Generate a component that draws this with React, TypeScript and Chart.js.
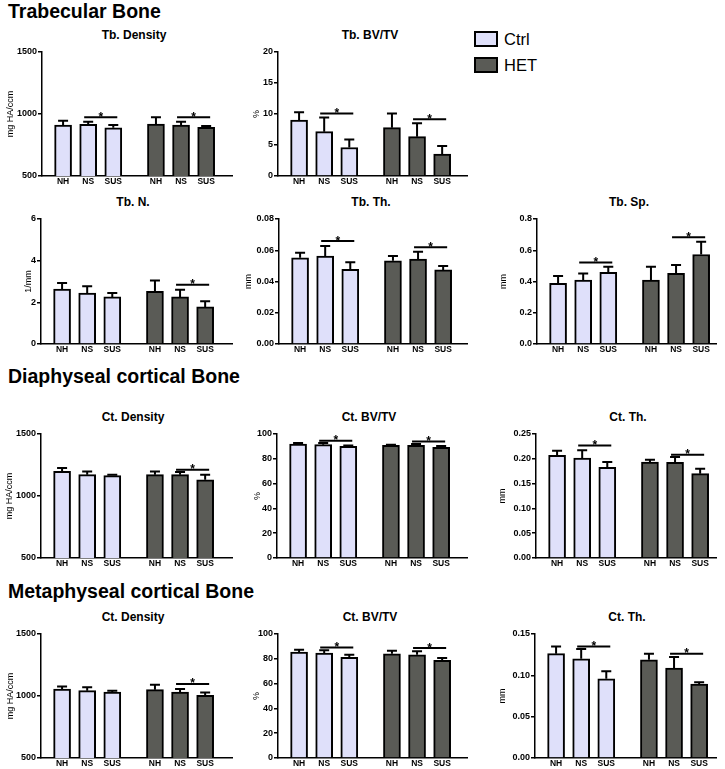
import React, { useEffect, useRef } from 'react';
import { Chart, registerables } from 'chart.js';
Chart.register(...registerables);

const FONT = "'Liberation Sans', Arial, Helvetica, sans-serif";
const CTRL_COLOR = '#dfe0fa';
const HET_COLOR = '#5a5b56';

const groupLabels = ['NH', 'NS', 'SUS'];
const legendLabels = ['Ctrl', 'HET'];

// ---- Trabecular bone ----
const tbDensityCtrl = [911, 917, 889];
const tbDensityCtrlSem = [35, 21, 22];
const tbDensityHet = [919, 911, 893];
const tbDensityHetSem = [54, 27, 10];
const tbDensitySig = [973, 973];

const tbBvtvCtrl = [9.0, 7.15, 4.6];
const tbBvtvCtrlSem = [1.3, 2.3, 1.3];
const tbBvtvHet = [7.8, 6.35, 3.55];
const tbBvtvHetSem = [2.3, 2.15, 1.3];
const tbBvtvSig = [10.1, 9.15];

const tbNCtrl = [2.64, 2.45, 2.26];
const tbNCtrlSem = [0.29, 0.32, 0.19];
const tbNHet = [2.53, 2.26, 1.78];
const tbNHetSem = [0.52, 0.35, 0.27];
const tbNSig = [null, 2.85];

const tbThCtrl = [0.0552, 0.0563, 0.0478];
const tbThCtrlSem = [0.0032, 0.0064, 0.0045];
const tbThHet = [0.0533, 0.0544, 0.0474];
const tbThHetSem = [0.003, 0.0047, 0.0025];
const tbThSig = [0.0659, 0.0619];

const tbSpCtrl = [0.388, 0.409, 0.458];
const tbSpCtrlSem = [0.048, 0.043, 0.036];
const tbSpHet = [0.409, 0.452, 0.573];
const tbSpHetSem = [0.085, 0.053, 0.081];
const tbSpSig = [0.522, 0.683];

// ---- Diaphyseal cortical bone ----
const dCtDensityCtrl = [1198, 1172, 1164];
const dCtDensityCtrlSem = [28, 26, 8];
const dCtDensityHet = [1172, 1172, 1131];
const dCtDensityHetSem = [26, 22, 41];
const dCtDensitySig = [null, 1212];

const dCtBvtvCtrl = [91.9, 91.4, 90.0];
const dCtBvtvCtrlSem = [0.8, 1.3, 0.8];
const dCtBvtvHet = [90.8, 90.8, 89.2];
const dCtBvtvHetSem = [0.6, 1.1, 1.1];
const dCtBvtvSig = [94.6, 94.0];

const dCtThCtrl = [0.2069, 0.2016, 0.1827];
const dCtThCtrlSem = [0.0094, 0.0154, 0.0108];
const dCtThHet = [0.1935, 0.1928, 0.17];
const dCtThHetSem = [0.0045, 0.0108, 0.01];
const dCtThSig = [0.227, 0.208];

// ---- Metaphyseal cortical bone ----
const mCtDensityCtrl = [1056, 1043, 1032];
const mCtDensityCtrlSem = [21, 27, 11];
const mCtDensityHet = [1051, 1032, 1005];
const mCtDensityHetSem = [40, 24, 24];
const mCtDensitySig = [null, 1097];

const mCtBvtvCtrl = [85.5, 84.7, 81.1];
const mCtBvtvCtrlSem = [1.8, 2.1, 2.2];
const mCtBvtvHet = [84.1, 83.3, 78.7];
const mCtBvtvHetSem = [2.4, 2.7, 1.9];
const mCtBvtvSig = [89.2, 88.7];

const mCtThCtrl = [0.1262, 0.1201, 0.0959];
const mCtThCtrlSem = [0.0088, 0.0118, 0.0089];
const mCtThHet = [0.1189, 0.1089, 0.0895];
const mCtThHetSem = [0.0073, 0.0133, 0.002];
const mCtThSig = [0.135, 0.1262];

type PanelDef = {
  title: string; yTitle: string; min: number; max: number; step: number; dec: number;
  ctrl: number[]; ctrlSem: number[]; het: number[]; hetSem: number[]; sig: (number | null)[];
  axisX: number; top: number; bottom: number; right: number; yTitleX: number;
};

const panels: PanelDef[] = [
  { title: 'Tb. Density', yTitle: 'mg HA/ccm', min: 500, max: 1500, step: 500, dec: 0,
    ctrl: tbDensityCtrl, ctrlSem: tbDensityCtrlSem, het: tbDensityHet, hetSem: tbDensityHetSem, sig: tbDensitySig,
    axisX: 42, top: 52, bottom: 176, right: 232, yTitleX: 10 },
  { title: 'Tb. BV/TV', yTitle: '%', min: 0, max: 20, step: 5, dec: 0,
    ctrl: tbBvtvCtrl, ctrlSem: tbBvtvCtrlSem, het: tbBvtvHet, hetSem: tbBvtvHetSem, sig: tbBvtvSig,
    axisX: 278, top: 52, bottom: 176, right: 467, yTitleX: 256 },
  { title: 'Tb. N.', yTitle: '1/mm', min: 0, max: 6, step: 2, dec: 0,
    ctrl: tbNCtrl, ctrlSem: tbNCtrlSem, het: tbNHet, hetSem: tbNHetSem, sig: tbNSig,
    axisX: 41, top: 219, bottom: 344, right: 232, yTitleX: 28 },
  { title: 'Tb. Th.', yTitle: 'mm', min: 0, max: 0.08, step: 0.02, dec: 2,
    ctrl: tbThCtrl, ctrlSem: tbThCtrlSem, het: tbThHet, hetSem: tbThHetSem, sig: tbThSig,
    axisX: 279, top: 219, bottom: 344, right: 467, yTitleX: 248 },
  { title: 'Tb. Sp.', yTitle: 'mm', min: 0, max: 0.8, step: 0.2, dec: 1,
    ctrl: tbSpCtrl, ctrlSem: tbSpCtrlSem, het: tbSpHet, hetSem: tbSpHetSem, sig: tbSpSig,
    axisX: 537, top: 219, bottom: 344, right: 716, yTitleX: 503 },
  { title: 'Ct. Density', yTitle: 'mg HA/ccm', min: 500, max: 1500, step: 500, dec: 0,
    ctrl: dCtDensityCtrl, ctrlSem: dCtDensityCtrlSem, het: dCtDensityHet, hetSem: dCtDensityHetSem, sig: dCtDensitySig,
    axisX: 41, top: 434, bottom: 558, right: 232, yTitleX: 9 },
  { title: 'Ct. BV/TV', yTitle: '%', min: 0, max: 100, step: 20, dec: 0,
    ctrl: dCtBvtvCtrl, ctrlSem: dCtBvtvCtrlSem, het: dCtBvtvHet, hetSem: dCtBvtvHetSem, sig: dCtBvtvSig,
    axisX: 277, top: 434, bottom: 558, right: 467, yTitleX: 257 },
  { title: 'Ct. Th.', yTitle: 'mm', min: 0, max: 0.25, step: 0.05, dec: 2,
    ctrl: dCtThCtrl, ctrlSem: dCtThCtrlSem, het: dCtThHet, hetSem: dCtThHetSem, sig: dCtThSig,
    axisX: 536, top: 434, bottom: 558, right: 716, yTitleX: 502 },
  { title: 'Ct. Density', yTitle: 'mg HA/ccm', min: 500, max: 1500, step: 500, dec: 0,
    ctrl: mCtDensityCtrl, ctrlSem: mCtDensityCtrlSem, het: mCtDensityHet, hetSem: mCtDensityHetSem, sig: mCtDensitySig,
    axisX: 41, top: 634, bottom: 758, right: 232, yTitleX: 10 },
  { title: 'Ct. BV/TV', yTitle: '%', min: 0, max: 100, step: 20, dec: 0,
    ctrl: mCtBvtvCtrl, ctrlSem: mCtBvtvCtrlSem, het: mCtBvtvHet, hetSem: mCtBvtvHetSem, sig: mCtBvtvSig,
    axisX: 278, top: 634, bottom: 758, right: 467, yTitleX: 256 },
  { title: 'Ct. Th.', yTitle: 'mm', min: 0, max: 0.15, step: 0.05, dec: 2,
    ctrl: mCtThCtrl, ctrlSem: mCtThCtrlSem, het: mCtThHet, hetSem: mCtThHetSem, sig: mCtThSig,
    axisX: 535, top: 634, bottom: 758, right: 716, yTitleX: 502 },
];

const sections = [
  { text: 'Trabecular Bone', capCenter: 10 },
  { text: 'Diaphyseal cortical Bone', capCenter: 375 },
  { text: 'Metaphyseal cortical Bone', capCenter: 590 },
];

// slot index -> x position on the linear category axis (gap between Ctrl and HET groups)
const slotPos = (i: number) => i + (i >= 3 ? 0.7 : 0);
const UNIT = 25.1; // px per slot
const X_MIN = -0.84;

const PAD_TOP = 8;
const PAD_RIGHT = 4;
const XH = 16;

function Panel({ p }: { p: PanelDef }) {
  const ref = useRef<HTMLCanvasElement>(null);
  const left = Math.round(p.yTitleX - 5.4);
  const YW = p.axisX - left;
  const width = p.right - left + PAD_RIGHT;
  const canvasTop = p.top - PAD_TOP;
  const height = p.bottom - canvasTop + XH + 2;
  const xMax = X_MIN + (p.right - p.axisX) / UNIT;

  useEffect(() => {
    if (!ref.current) return;
    const overlay = {
      id: 'errbars',
      afterDatasetsDraw(chart: any) {
        const ctx = chart.ctx;
        const ys = chart.scales.y;
        const xs = chart.scales.x;
        ctx.save();
        ctx.strokeStyle = '#000';
        ctx.lineWidth = 2;
        const sets: [number[], number[]][] = [[p.ctrl, p.ctrlSem], [p.het, p.hetSem]];
        sets.forEach(([m, s], di) => {
          const meta = chart.getDatasetMeta(di);
          meta.data.forEach((bar: any, i: number) => {
            const x = bar.x;
            const y0 = ys.getPixelForValue(m[i]);
            const y1 = ys.getPixelForValue(m[i] + s[i]);
            ctx.beginPath();
            ctx.moveTo(x, y0);
            ctx.lineTo(x, y1);
            ctx.moveTo(x - 5, y1);
            ctx.lineTo(x + 5, y1);
            ctx.stroke();
          });
        });
        p.sig.forEach((v, g) => {
          if (v == null) return;
          const x1 = xs.getPixelForValue(slotPos(g * 3 + 1)) - 4;
          const x2 = xs.getPixelForValue(slotPos(g * 3 + 2)) + 4;
          const y = ys.getPixelForValue(v);
          ctx.beginPath();
          ctx.moveTo(x1, y);
          ctx.lineTo(x2, y);
          ctx.stroke();
          ctx.font = `bold 12px ${FONT}`;
          ctx.textAlign = 'center';
          ctx.textBaseline = 'alphabetic';
          ctx.fillStyle = '#000';
          ctx.fillText('*', (x1 + x2) / 2, y + 3.5);
        });
        ctx.restore();
      },
    };
    const labels6 = [...groupLabels, ...groupLabels];
    const chart = new Chart(ref.current, {
      type: 'bar',
      data: {
        datasets: [
          {
            label: legendLabels[0],
            data: p.ctrl.map((v, i) => ({ x: slotPos(i), y: v })),
            backgroundColor: CTRL_COLOR, borderColor: '#000', borderWidth: 2,
            barThickness: 17, grouped: false,
          } as any,
          {
            label: legendLabels[1],
            data: p.het.map((v, i) => ({ x: slotPos(i + 3), y: v })),
            backgroundColor: HET_COLOR, borderColor: '#000', borderWidth: 2,
            barThickness: 17, grouped: false,
          } as any,
        ],
      },
      options: {
        responsive: false,
        animation: false,
        devicePixelRatio: 1,
        layout: { padding: { top: PAD_TOP, right: PAD_RIGHT, left: 0, bottom: 2 } },
        plugins: { legend: { display: false }, tooltip: { enabled: false }, title: { display: false } },
        scales: {
          x: {
            type: 'linear', min: X_MIN, max: xMax, offset: false,
            afterBuildTicks: (s: any) => { s.ticks = [0, 1, 2, 3, 4, 5].map((i) => ({ value: slotPos(i) })); },
            afterFit: (s: any) => { s.height = XH; },
            ticks: {
              autoSkip: false, maxRotation: 0, padding: 1, color: '#000',
              font: { family: FONT, size: 8.5, weight: 'bold' },
              callback: (_v: any, idx: number) => labels6[idx],
            },
            grid: { display: false, drawTicks: false, offset: false },
            border: { display: true, color: '#000', width: 1.5 },
          },
          y: {
            type: 'linear', min: p.min, max: p.max,
            afterFit: (s: any) => { s.width = YW; },
            ticks: {
              stepSize: p.step, padding: 1, color: '#000',
              font: { family: FONT, size: 9, weight: 'bold' },
              callback: (v: any) => Number(v).toFixed(p.dec),
            },
            grid: { drawOnChartArea: false, drawTicks: true, tickLength: 4, color: '#000', lineWidth: 1.5 },
            border: { display: true, color: '#000', width: 1.5 },
            title: {
              display: true, text: p.yTitle, color: '#000',
              font: { family: FONT, size: 9 }, padding: { top: 0, bottom: 0 },
            },
          },
        },
      } as any,
      plugins: [overlay],
    });
    return () => chart.destroy();
  }, []);

  return (
    <>
      <canvas
        ref={ref}
        width={width}
        height={height}
        style={{ position: 'absolute', left, top: canvasTop, width, height }}
      />
      <div
        style={{
          position: 'absolute', left: p.axisX + 92 - 100, width: 200, top: p.top - 23,
          textAlign: 'center', font: `bold 12px ${FONT}`, lineHeight: '12px', color: '#000',
        }}
      >
        {p.title}
      </div>
    </>
  );
}

export default function App() {
  return (
    <div style={{ position: 'absolute', left: 0, top: 0, width: 725, height: 769, background: '#fff', overflow: 'hidden' }}>
      {sections.map((s) => (
        <div
          key={s.text}
          style={{
            position: 'absolute', left: 8, top: s.capCenter - 9.5, whiteSpace: 'nowrap',
            font: `bold 19.5px ${FONT}`, lineHeight: '20px', color: '#000',
          }}
        >
          {s.text}
        </div>
      ))}
      {legendLabels.map((t, i) => (
        <React.Fragment key={t}>
          <div
            style={{
              position: 'absolute', left: 474, top: 31 + i * 26, width: 20, height: 12,
              border: '2px solid #000', background: i === 0 ? CTRL_COLOR : HET_COLOR,
            }}
          />
          <div
            style={{
              position: 'absolute', left: 504, top: 31 + i * 26 - 2, font: `16.5px ${FONT}`,
              lineHeight: '20px', color: '#000',
            }}
          >
            {t}
          </div>
        </React.Fragment>
      ))}
      {panels.map((p, i) => (
        <Panel key={i} p={p} />
      ))}
    </div>
  );
}
